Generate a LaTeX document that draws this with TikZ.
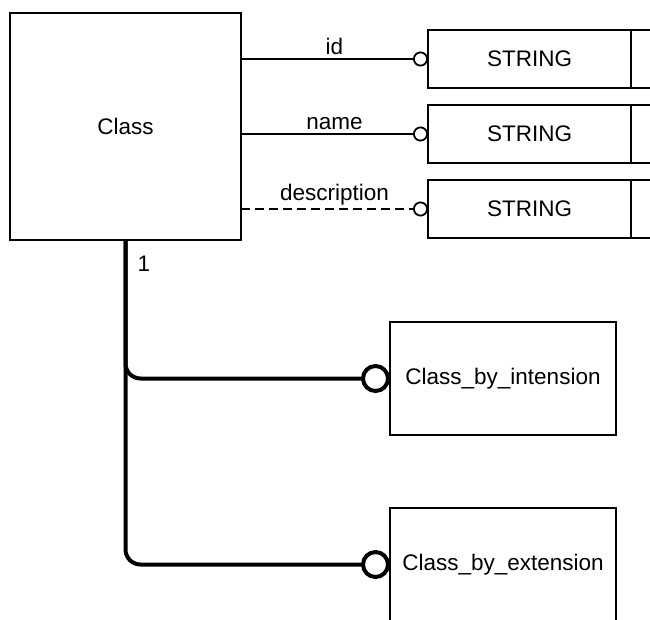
\documentclass[tikz,border=0pt]{standalone}
\usepackage{fontspec}
\setmainfont{Liberation Sans}
\usetikzlibrary{
    positioning,      % For placing nodes relative to each other
    arrows.meta       % For the open circle tips
}

\begin{document}
\begin{tikzpicture}[
    % one unit is one pixel of the picture, y runs downwards
    x=1pt, y=-1pt,
    node distance=17pt and 10pt,
    font=\fontsize{22.5}{27}\selectfont,
]
    % --- Define TikZ styles for diagram elements ---
    \tikzset{
        % the main entity box
        entity/.style={
            draw, line width=1.8pt,
            minimum width=231pt, minimum height=227pt,
            inner sep=0pt, outer sep=0pt
        },
        % the attribute type boxes
        typebox/.style={
            draw, line width=1.8pt,
            minimum width=203pt, minimum height=58pt,
            inner sep=0pt, outer sep=0pt
        },
        % the subtype boxes
        subbox/.style={
            draw, line width=1.5pt,
            minimum width=226pt, minimum height=113pt,
            inner sep=0pt, outer sep=0pt
        },
        % attribute connectors
        attr/.style={line width=1.8pt, -{Circle[open, length=15pt]}},
        optattr/.style={attr, dash pattern=on 9pt off 5pt},
        attrname/.style={above, inner sep=3pt},
        % subtype connectors
        subtype/.style={line width=4pt, rounded corners=15pt, -{Circle[open, length=29pt]}}
    }

    % --- Fix the frame of the picture ---
    \useasboundingbox (0,0) rectangle (650,619);
    \clip (0,0) rectangle (650,619);

    % 1. The main entity
    \node[entity] (class) at (125.5,126.5) {Class};

    % 2. The attribute types on the right
    \node[typebox] (str1) at (529.5,59) {STRING};
    \node[typebox, below=of str1] (str2) {STRING};
    \node[typebox, below=of str2] (str3) {STRING};
    \foreach \s in {str1,str2,str3}
        \node[typebox, minimum width=60pt, anchor=west] (\s tail) at (\s.east) {};

    % 3. The subtypes below
    \node[subbox] (cbi) at (503,378.5) {Class\_by\_intension};
    \node[subbox, below=73pt of cbi] (cbe) {Class\_by\_extension};

    % 4. The attribute connectors
    \draw[attr] (class.east |- str1.west) -- node[attrname] {id} (str1.west);
    \draw[attr] (class.east |- str2.west) -- node[attrname] {name} (str2.west);
    \draw[optattr] (class.east |- str3.west) -- node[attrname] {description} (str3.west);

    % 5. The subtype connectors
    \draw[subtype] (class.south) |- (cbi.west);
    \draw[subtype] (class.south) |- (cbe.west);
    \node[below right=16pt and 12pt of class.south, inner sep=0pt] (one) {1};

\end{tikzpicture}
\end{document}
